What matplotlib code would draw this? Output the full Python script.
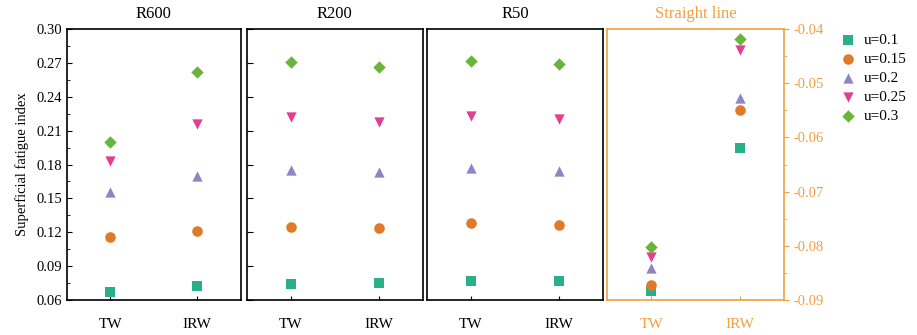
import matplotlib.pyplot as plt
from matplotlib.ticker import MultipleLocator, FormatStrFormatter

plt.rcParams['font.family'] = ['Liberation Serif', 'DejaVu Serif']

panels = ['R600', 'R200', 'R50', 'Straight line']
groups = ['TW', 'IRW']
labels = ['u=0.1', 'u=0.15', 'u=0.2', 'u=0.25', 'u=0.3']

# values per panel: rows = u, cols = [TW, IRW]
r600 = [[0.067, 0.072], [0.116, 0.121], [0.156, 0.170], [0.183, 0.216], [0.200, 0.262]]
r200 = [[0.074, 0.075], [0.125, 0.124], [0.175, 0.173], [0.222, 0.218], [0.271, 0.266]]
r50 = [[0.077, 0.077], [0.128, 0.126], [0.177, 0.174], [0.223, 0.220], [0.272, 0.269]]
straight = [[-0.0883, -0.0620], [-0.0872, -0.0550], [-0.0841, -0.0527], [-0.0820, -0.0439], [-0.0802, -0.0418]]

markers = ['s', 'o', '^', 'v', 'D']
colors = ['#2BAF8A', '#E07A2A', '#8E84C6', '#E53E8E', '#6AB43C']
sizes = [42, 58, 55, 55, 40]
orange = '#F0A040'

fig = plt.figure(figsize=(9.17, 3.35), dpi=100)
W, H = 917, 335
xs = [(66.7, 240.7), (247, 422.7), (426.7, 603), (607, 784)]
top, bot = 29, 300
data = [r600, r200, r50, straight]

axes = []
for i, (x0, x1) in enumerate(xs):
    ax = fig.add_axes([x0 / W, 1 - bot / H, (x1 - x0) / W, (bot - top) / H])
    axes.append(ax)
    vals = data[i]
    for k in range(5):
        ax.scatter([0, 1], vals[k], marker=markers[k], color=colors[k], s=sizes[k],
                   linewidths=0, label=labels[k], zorder=3)
    ax.set_xlim(-0.5, 1.5)
    ax.set_xticks([0, 1])
    ax.set_xticklabels(groups, fontsize=11)
    ax.tick_params(axis='x', direction='in', length=3, pad=13)
    ax.set_title(panels[i], fontsize=12, pad=8)
    for sp in ax.spines.values():
        sp.set_linewidth(1.2)
    if i < 3:
        ax.set_ylim(0.06, 0.30)

ax = axes[0]
ax.yaxis.set_major_locator(MultipleLocator(0.03))
ax.yaxis.set_minor_locator(MultipleLocator(0.015))
ax.yaxis.set_major_formatter(FormatStrFormatter('%.2f'))
ax.tick_params(axis='y', which='both', direction='in', labelsize=10.5)
ax.tick_params(axis='y', which='minor', length=2)
ax.set_ylabel('Superficial fatigue index', fontsize=10.5, labelpad=5)

ax = axes[1]
ax.yaxis.set_major_locator(MultipleLocator(0.03))
ax.tick_params(axis='y', direction='in', labelleft=False, length=4)

ax = axes[2]
ax.set_yticks([])

ax = axes[3]
ax.set_ylim(-0.09, -0.04)
ax.yaxis.tick_right()
ax.yaxis.set_major_locator(MultipleLocator(0.01))
ax.yaxis.set_minor_locator(MultipleLocator(0.005))
ax.yaxis.set_major_formatter(FormatStrFormatter('%.2f'))
ax.tick_params(axis='y', which='both', direction='out', colors=orange, labelsize=10.5)
ax.tick_params(axis='y', which='minor', length=2)
ax.tick_params(axis='x', colors=orange)
ax.title.set_color(orange)
for sp in ax.spines.values():
    sp.set_color(orange)

handles, labs = axes[0].get_legend_handles_labels()
fig.legend(handles, labs, loc='upper left', bbox_to_anchor=(833 / W, 1 - 27 / H),
           frameon=False, fontsize=11, handletextpad=0.4, labelspacing=0.35,
           handlelength=1.2, borderaxespad=0)

plt.savefig('out.png', dpi=100)
